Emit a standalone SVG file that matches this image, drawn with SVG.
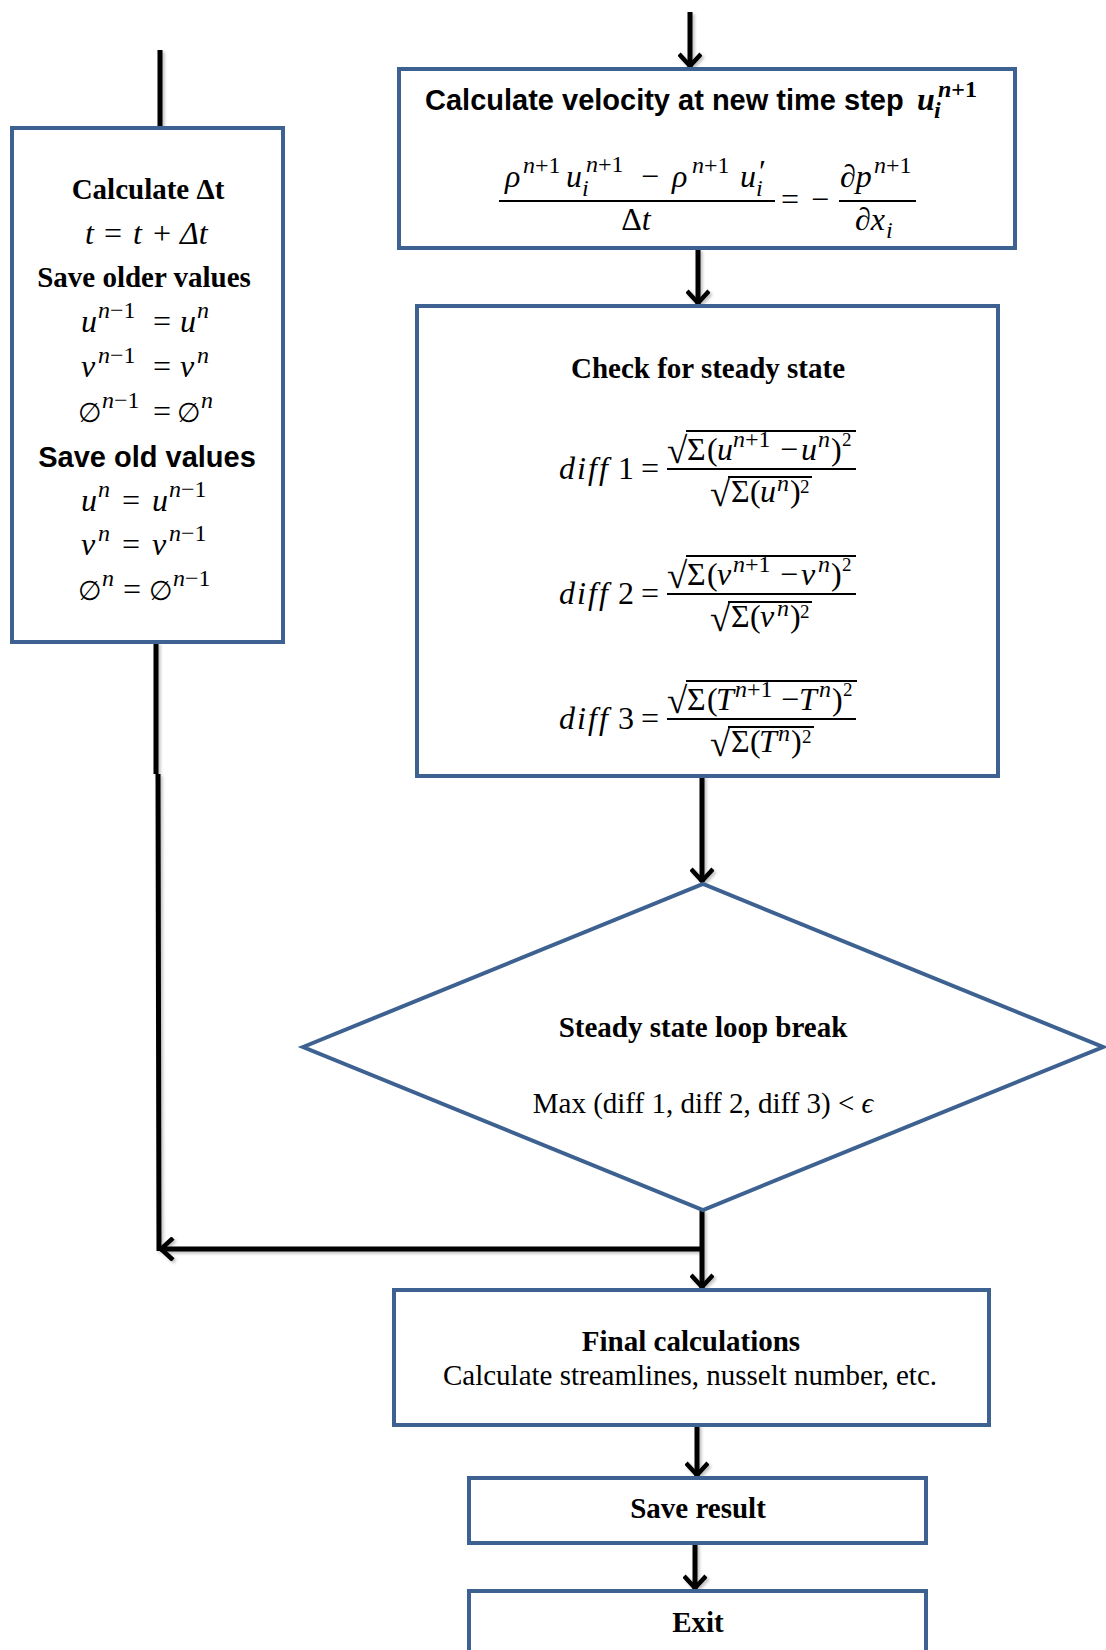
<svg xmlns="http://www.w3.org/2000/svg" width="1106" height="1650" viewBox="0 0 1106 1650">
<defs>
<style>
.box{fill:#fff;stroke:#3d6190;stroke-width:4}
.conn{stroke:#000;stroke-width:5;fill:none}
.fb{stroke:#000;stroke-width:1.8}
.tb{font-family:"Liberation Serif","Times New Roman",serif;font-weight:bold;font-size:29px}
.tr{font-family:"Liberation Serif","Times New Roman",serif;font-size:29px}
.ab{font-family:"Liberation Sans",Arial,sans-serif;font-weight:bold;font-size:29px}
.m{font-family:"Liberation Serif","DejaVu Serif",serif;font-style:italic;font-size:32px}
.s{font-size:24px}
.s2{font-size:19px}
.up{font-style:normal}
.es{font-family:"DejaVu Sans",sans-serif;font-style:normal;font-size:27px}
.rad{font-family:"Liberation Serif","DejaVu Serif",serif;font-size:37px}
.c{text-anchor:middle}
</style>
<marker id="ah" viewBox="0 0 18 24" refX="15" refY="12" markerWidth="18" markerHeight="24" markerUnits="userSpaceOnUse" orient="auto">
<path d="M2,1 L14,12 L2,23" fill="none" stroke="#000" stroke-width="4.5"/>
</marker>
<filter id="sh" x="-20%" y="-20%" width="140%" height="140%">
<feDropShadow dx="2" dy="2" stdDeviation="1.5" flood-color="#000" flood-opacity="0.25"/>
</filter>
</defs>
<rect width="1106" height="1650" fill="#fff"/>

<g id="connectors" filter="url(#sh)">
<line class="conn" x1="690" y1="12" x2="690" y2="67" marker-end="url(#ah)"/>
<line class="conn" x1="698" y1="249" x2="698" y2="304" marker-end="url(#ah)"/>
<line class="conn" x1="702" y1="776" x2="702" y2="882" marker-end="url(#ah)"/>
<line class="conn" x1="160" y1="50" x2="160" y2="127"/>
<path class="conn" d="M156,642 L156,774 M158,774 L159,1251"/>
<line class="conn" x1="702" y1="1210" x2="702" y2="1288" marker-end="url(#ah)"/>
<line class="conn" x1="702" y1="1249" x2="160" y2="1249" marker-end="url(#ah)"/>
<line class="conn" x1="697" y1="1425" x2="697" y2="1476" marker-end="url(#ah)"/>
<line class="conn" x1="695" y1="1543" x2="695" y2="1589" marker-end="url(#ah)"/>
</g>

<g id="velocity">
<rect class="box" x="399" y="69" width="616" height="179"/>
<text class="ab" x="425" y="110">Calculate velocity at new time step</text>
<text class="m" x="917" y="110" font-weight="bold">u</text>
<text class="m s" x="934" y="118" font-weight="bold">i</text>
<text class="m s" x="938" y="97" font-weight="bold">n<tspan class="up">+1</tspan></text>
<text class="m" x="505" y="187">ρ</text>
<text class="m s" x="523" y="173">n<tspan class="up">+1</tspan></text>
<text class="m" x="566" y="187">u</text>
<text class="m s" x="582" y="196">i</text>
<text class="m s" x="586" y="172">n<tspan class="up">+1</tspan></text>
<text class="m up" x="641" y="187">−</text>
<text class="m" x="672" y="187">ρ</text>
<text class="m s" x="692" y="173">n<tspan class="up">+1</tspan></text>
<text class="m" x="740" y="187">u</text>
<text class="m s" x="756" y="196">i</text>
<text class="m up" x="759" y="182" font-size="26">′</text>
<line class="fb" x1="499" y1="201" x2="775" y2="201"/>
<text class="m c" x="636" y="230"><tspan class="up">Δ</tspan>t</text>
<text class="m up" x="781" y="210">=</text>
<text class="m up" x="811" y="210">−</text>
<text class="m" x="840" y="187">∂p</text>
<text class="m s" x="874" y="173">n<tspan class="up">+1</tspan></text>
<line class="fb" x1="839" y1="201" x2="916" y2="201"/>
<text class="m" x="855" y="230">∂x</text>
<text class="m s" x="886" y="238">i</text>
</g>

<g id="timestep">
<rect class="box" x="12" y="128" width="271" height="514"/>
<text class="tb c" x="148" y="199">Calculate Δt</text>
<text class="m" x="85" y="244">t</text>
<text class="m up" x="104" y="244">=</text>
<text class="m" x="133" y="244">t</text>
<text class="m up" x="153" y="244">+</text>
<text class="m" x="180" y="244"><tspan>Δ</tspan>t</text>
<text class="tb c" x="144" y="287">Save older values</text>
<text class="m" x="81" y="332">u</text>
<text class="m s" x="98" y="318">n<tspan class="up">−1</tspan></text>
<text class="m up" x="153" y="332">=</text>
<text class="m" x="180" y="332">u</text>
<text class="m s" x="197" y="318">n</text>
<text class="m" x="81" y="377">v</text>
<text class="m s" x="98" y="363">n<tspan class="up">−1</tspan></text>
<text class="m up" x="153" y="377">=</text>
<text class="m" x="180" y="377">v</text>
<text class="m s" x="197" y="363">n</text>
<text class="es" x="78" y="422">∅</text>
<text class="m s" x="102" y="408">n<tspan class="up">−1</tspan></text>
<text class="m up" x="153" y="422">=</text>
<text class="es" x="177" y="422">∅</text>
<text class="m s" x="201" y="408">n</text>
<text class="ab c" x="147" y="467">Save old values</text>
<text class="m" x="81" y="511">u</text>
<text class="m s" x="98" y="497">n</text>
<text class="m up" x="122" y="511">=</text>
<text class="m" x="152" y="511">u</text>
<text class="m s" x="169" y="497">n<tspan class="up">−1</tspan></text>
<text class="m" x="81" y="555">v</text>
<text class="m s" x="98" y="541">n</text>
<text class="m up" x="122" y="555">=</text>
<text class="m" x="152" y="555">v</text>
<text class="m s" x="169" y="541">n<tspan class="up">−1</tspan></text>
<text class="es" x="78" y="600">∅</text>
<text class="m s" x="102" y="586">n</text>
<text class="m up" x="123" y="600">=</text>
<text class="es" x="149" y="600">∅</text>
<text class="m s" x="173" y="586">n<tspan class="up">−1</tspan></text>
</g>

<g id="steady">
<rect class="box" x="417" y="306" width="581" height="470"/>
<text class="tb c" x="708" y="378">Check for steady state</text>
<g id="diff1">
<text class="m" x="559" y="479" textLength="49">diff</text>
<text class="m up" x="618" y="479">1</text>
<text class="m up" x="641" y="479">=</text>
<line class="fb" x1="667" y1="469" x2="856" y2="469"/>
<text class="rad" x="667" y="463">√</text>
<line class="fb" x1="686" y1="431" x2="856" y2="431"/>
<text class="m up" x="687" y="460">Σ</text>
<text class="m up" x="707" y="460">(</text>
<text class="m" x="717" y="460">u</text>
<text class="m s" x="733" y="447">n<tspan class="up">+1</tspan></text>
<text class="m up" x="780" y="460">−</text>
<text class="m" x="801" y="460">u</text>
<text class="m s" x="818" y="447">n</text>
<text class="m up" x="831" y="460">)</text>
<text class="m up s2" x="842" y="446">2</text>
<text class="rad" x="710" y="506">√</text>
<line class="fb" x1="728" y1="477" x2="812" y2="477"/>
<text class="m up" x="731" y="502">Σ</text>
<text class="m up" x="750" y="502">(</text>
<text class="m" x="760" y="502">u</text>
<text class="m s" x="777" y="491">n</text>
<text class="m up" x="790" y="502">)</text>
<text class="m up s2" x="800" y="493">2</text>
</g>
<g id="diff2" transform="translate(0,125)">
<text class="m" x="559" y="479" textLength="49">diff</text>
<text class="m up" x="618" y="479">2</text>
<text class="m up" x="641" y="479">=</text>
<line class="fb" x1="667" y1="469" x2="856" y2="469"/>
<text class="rad" x="667" y="463">√</text>
<line class="fb" x1="686" y1="431" x2="856" y2="431"/>
<text class="m up" x="687" y="460">Σ</text>
<text class="m up" x="707" y="460">(</text>
<text class="m" x="717" y="460">v</text>
<text class="m s" x="733" y="447">n<tspan class="up">+1</tspan></text>
<text class="m up" x="780" y="460">−</text>
<text class="m" x="801" y="460">v</text>
<text class="m s" x="818" y="447">n</text>
<text class="m up" x="831" y="460">)</text>
<text class="m up s2" x="842" y="446">2</text>
<text class="rad" x="710" y="506">√</text>
<line class="fb" x1="728" y1="477" x2="812" y2="477"/>
<text class="m up" x="731" y="502">Σ</text>
<text class="m up" x="750" y="502">(</text>
<text class="m" x="760" y="502">v</text>
<text class="m s" x="777" y="491">n</text>
<text class="m up" x="790" y="502">)</text>
<text class="m up s2" x="800" y="493">2</text>
</g>
<g id="diff3" transform="translate(0,250)">
<text class="m" x="559" y="479" textLength="49">diff</text>
<text class="m up" x="618" y="479">3</text>
<text class="m up" x="641" y="479">=</text>
<line class="fb" x1="667" y1="469" x2="856" y2="469"/>
<text class="rad" x="667" y="463">√</text>
<line class="fb" x1="686" y1="431" x2="857" y2="431"/>
<text class="m up" x="687" y="460">Σ</text>
<text class="m up" x="707" y="460">(</text>
<text class="m" x="716" y="460">T</text>
<text class="m s" x="735" y="447">n<tspan class="up">+1</tspan></text>
<text class="m up" x="781" y="460">−</text>
<text class="m" x="799" y="460">T</text>
<text class="m s" x="819" y="447">n</text>
<text class="m up" x="832" y="460">)</text>
<text class="m up s2" x="843" y="446">2</text>
<text class="rad" x="710" y="506">√</text>
<line class="fb" x1="728" y1="477" x2="814" y2="477"/>
<text class="m up" x="731" y="502">Σ</text>
<text class="m up" x="750" y="502">(</text>
<text class="m" x="759" y="502">T</text>
<text class="m s" x="778" y="491">n</text>
<text class="m up" x="791" y="502">)</text>
<text class="m up s2" x="802" y="493">2</text>
</g>
</g>

<g id="loopbreak">
<polygon class="box" points="303,1047 703,884 1103,1047 703,1210"/>
<text class="tb c" x="703" y="1037">Steady state loop break</text>
<text class="tr c" x="703" y="1113">Max (diff 1, diff 2, diff 3) &lt; <tspan font-style="italic">ϵ</tspan></text>
</g>

<g id="final">
<rect class="box" x="394" y="1290" width="595" height="135"/>
<text class="tb c" x="691" y="1351">Final calculations</text>
<text class="tr c" x="690" y="1385">Calculate streamlines, nusselt number, etc.</text>
</g>

<g id="save">
<rect class="box" x="469" y="1478" width="457" height="65"/>
<text class="tb c" x="698" y="1518">Save result</text>
</g>

<g id="exit">
<rect class="box" x="469" y="1591" width="457" height="80"/>
<text class="tb c" x="698" y="1632">Exit</text>
</g>
</svg>
